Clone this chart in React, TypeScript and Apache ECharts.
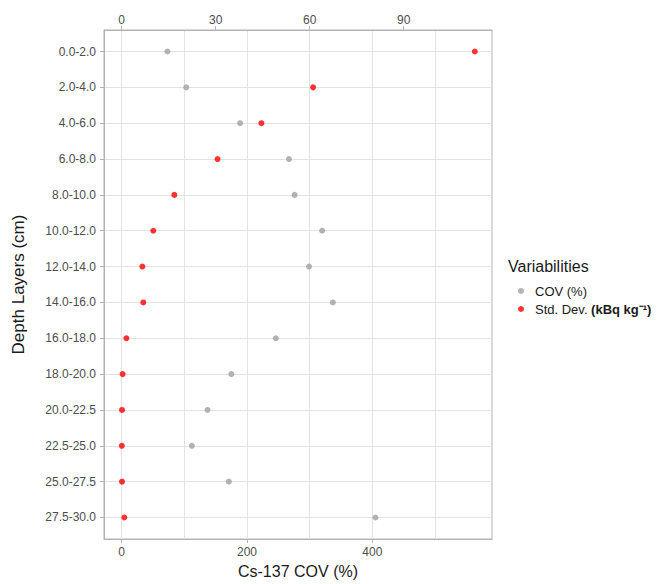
import React, { useEffect, useRef } from "react";
import * as echarts from "echarts";

const depthLayers = [
  "0.0-2.0", "2.0-4.0", "4.0-6.0", "6.0-8.0", "8.0-10.0", "10.0-12.0", "12.0-14.0",
  "14.0-16.0", "16.0-18.0", "18.0-20.0", "20.0-22.5", "22.5-25.0", "25.0-27.5", "27.5-30.0",
];
const covValues = [73, 103, 189, 267, 276, 320, 299, 337, 246, 175, 137, 112, 171, 405];
const stdDevValues = [112.7, 61.1, 44.6, 30.6, 16.8, 10.1, 6.6, 6.9, 1.5, 0.3, 0.1, 0.05, 0.1, 0.85];
const bottomTicks = [0, 200, 400];
const bottomGridTicks = [0, 100, 200, 300, 400, 500];
const topTicks = [0, 30, 60, 90];
const rowIndex = depthLayers.map((_, i) => i);

const FONT = "'Liberation Sans', Arial, sans-serif";
const GRID_COLOR = "#e3e3e3";
const BORDER = "#b3b3b3";
const LABEL = "#4d4d4d";

export default function App() {
  const ref = useRef<HTMLDivElement>(null);
  useEffect(() => {
    if (!ref.current) return;
    const chart = echarts.init(ref.current, null, { renderer: "svg" });
    const option: any = {
      animation: false,
      backgroundColor: "#ffffff",
      textStyle: { fontFamily: FONT },
      title: {
        text: "Variabilities",
        left: 508,
        top: 258,
        padding: 0,
        textStyle: { fontSize: 16, fontWeight: "normal", color: "#1a1a1a", fontFamily: FONT },
      },
      legend: {
        orient: "vertical",
        left: 518,
        top: 284,
        itemWidth: 6,
        itemHeight: 6,
        itemGap: 4,
        icon: "circle",
        padding: 0,
        textStyle: {
          fontSize: 13,
          color: "#1a1a1a",
          lineHeight: 14,
          padding: [0, 0, 0, 6],
          fontFamily: FONT,
          rich: {
            b: { fontSize: 13, fontWeight: "bold", color: "#1a1a1a", fontFamily: FONT, lineHeight: 14 },
          },
        },
        formatter: (name: string) =>
          name.startsWith("Std") ? "Std. Dev. {b|(kBq kg\u207B\u00B9)}" : name,
        data: ["COV (%)", "Std. Dev. (kBq kg\u207B\u00B9)"],
      },
      grid: {
        left: 104,
        right: 166,
        top: 30,
        bottom: 40,
        show: true,
        borderColor: BORDER,
        borderWidth: 1,
        backgroundColor: "transparent",
      },
      xAxis: [
        {
          type: "value",
          position: "bottom",
          min: -28.2,
          max: 591,
          name: "Cs-137 COV (%)",
          nameLocation: "middle",
          nameGap: 24,
          nameTextStyle: { fontSize: 16, color: "#1a1a1a", fontFamily: FONT },
          axisLine: { show: true, onZero: false, lineStyle: { color: BORDER } },
          axisTick: { show: true, length: 4, customValues: bottomTicks, lineStyle: { color: BORDER } },
          axisLabel: { customValues: bottomTicks, fontSize: 12, color: LABEL, margin: 7 },
          splitLine: { show: false },
        },
        {
          type: "value",
          position: "top",
          min: -5.64,
          max: 118.2,
          axisLine: { show: true, onZero: false, lineStyle: { color: BORDER } },
          axisTick: { show: true, length: 4, customValues: topTicks, lineStyle: { color: BORDER } },
          axisLabel: { customValues: topTicks, fontSize: 12, color: LABEL, margin: 4 },
          splitLine: { show: false },
        },
        {
          type: "value",
          position: "bottom",
          min: -28.2,
          max: 591,
          axisLine: { show: false, onZero: false },
          axisTick: { show: false, customValues: bottomGridTicks },
          axisLabel: { show: false, customValues: bottomGridTicks },
          splitLine: { show: true, lineStyle: { color: GRID_COLOR, width: 1 } },
        },
      ],
      yAxis: {
        type: "value",
        inverse: true,
        min: -0.6,
        max: 13.6,
        name: "Depth Layers (cm)",
        nameLocation: "middle",
        nameGap: 77,
        nameRotate: 90,
        nameTextStyle: { fontSize: 17, color: "#1a1a1a", fontFamily: FONT },
        axisLine: { show: true, onZero: false, lineStyle: { color: BORDER } },
        axisTick: { show: true, length: 4, customValues: rowIndex, lineStyle: { color: BORDER } },
        axisLabel: {
          customValues: rowIndex,
          fontSize: 12,
          color: LABEL,
          margin: 8,
          formatter: (v: number) => depthLayers[Math.round(v)] ?? "",
        },
        splitLine: { show: true, lineStyle: { color: GRID_COLOR, width: 1 } },
      },
      series: [
        {
          name: "COV (%)",
          type: "scatter",
          xAxisIndex: 0,
          symbol: "circle",
          symbolSize: 6,
          itemStyle: { color: "#a0a0a0" },
          data: covValues.map((v, i) => [v, i]),
          z: 3,
        },
        {
          name: "Std. Dev. (kBq kg\u207B\u00B9)",
          type: "scatter",
          xAxisIndex: 1,
          symbol: "circle",
          symbolSize: 6,
          itemStyle: { color: "#ff0000" },
          data: stdDevValues.map((v, i) => [v, i]),
          z: 4,
        },
      ],
    };
    chart.setOption(option);
    return () => chart.dispose();
  }, []);
  return (
    <div
      ref={ref}
      style={{ position: "fixed", left: 0, top: 0, width: 658, height: 584, background: "#fff" }}
    />
  );
}
